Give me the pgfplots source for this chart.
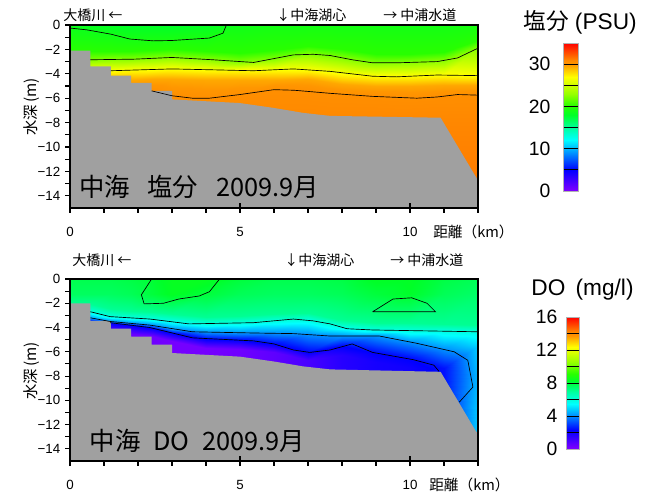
\documentclass[border=0pt]{standalone}
\usepackage{pgfplots}
\pgfplotsset{compat=1.18}
\usepackage{fontspec}
\setmainfont{Liberation Sans}
\newfontfamily\jp{Noto Sans CJK JP}
\definecolor{bath}{RGB}{160,160,160}

\pgfplotsset{
  colormap={nakaumi}{rgb255(0cm)=(128,0,255); rgb255(5cm)=(0,0,255); rgb255(8cm)=(0,110,255);
    rgb255(12cm)=(0,255,255); rgb255(15cm)=(0,255,160); rgb255(18cm)=(0,255,40);
    rgb255(20cm)=(40,255,0); rgb255(23cm)=(150,255,0); rgb255(27cm)=(255,255,0);
    rgb255(30cm)=(255,150,0); rgb255(31cm)=(255,135,0); rgb255(35cm)=(255,0,0)},
  section/.style={
    scale only axis, width=306pt,
    xmin=0, xmax=12, ymin=-15, ymax=0,
    axis on top,
    axis line style={line width=1.1pt},
    xtick={0,5,10}, xticklabels={0,5,10},
    minor xtick={1,2,3,4,6,7,8,9,11,12},
    ytick={-14,-12,-10,-8,-6,-4,-2,0},
    yticklabels={−14,−12,−10,−8,−6,−4,−2,0},
    minor ytick={-13,-11,-9,-7,-5,-3,-1},
    xtick pos=left, ytick pos=left,
    tick align=outside,
    major tick length=3.75pt, minor tick length=3.5pt,
    tick style={black, line width=0.8pt},
    tick label style={font=\fontsize{10}{12}\selectfont},
    xticklabel style={yshift=-7pt},
    extra x ticks={0,5,10}, extra x tick labels={},
    extra x tick style={tick align=inside, major tick length=3.75pt},
    colormap name=nakaumi,
  },
  cbar/.style={
    scale only axis, anchor=south west, axis on top,
    xmin=0, xmax=1, xtick=\empty,
    ytick pos=left, tick align=inside,
    tick style={black, line width=0.6pt},
    axis line style={gray!60, line width=0.4pt},
    colormap name=nakaumi,
  },
}

\begin{document}
\begin{tikzpicture}
\path[use as bounding box] (0,0) rectangle (494.25pt,372pt);

% ---------------- Salinity ----------------
\begin{axis}[section, height=137.25pt, at={(52.5pt,216pt)}, anchor=south west,
  point meta min=0, point meta max=35]
\addplot[surf, shader=interp, mesh/cols=15, point meta=explicit]
  table[x index=0, y index=1, meta index=2] {
x y v
0 0 18.6
0.6 0 18.4
1.2 0 18.2
1.8 0 18.0
2.4 0 18.0
3 0 18.0
4 0 18.2
5 0 18.8
6 0 19
7 0 19
8 0 19
9 0 19
10 0 19
11 0 19
12 0 19.2
0 -2.15 20
0.6 -2.15 20
1.2 -2.12 20
1.8 -2.10 20
2.4 -2.03 20
3 -1.96 20
4 -2.10 20
5 -2.30 20
6 -2.05 20
7 -1.70 20
8 -2.00 20
9 -2.40 20
10 -2.37 20
11 -2.20 20
12 -1.20 20
0 -2.85 22.5
0.6 -2.85 22.5
1.2 -2.82 22.5
1.8 -2.80 22.5
2.4 -2.73 22.5
3 -2.66 22.5
4 -2.80 22.5
5 -3.00 22.5
6 -2.75 22.5
7 -2.40 22.5
8 -2.70 22.5
9 -3.10 22.5
10 -3.07 22.5
11 -2.90 22.5
12 -1.90 22.5
0 -3.75 27
0.6 -3.75 27
1.2 -3.75 27
1.8 -3.70 27
2.4 -3.65 27
3 -3.60 27
4 -3.70 27
5 -3.72 27
6 -3.67 27
7 -3.65 27
8 -4.00 27
9 -4.20 27
10 -4.20 27
11 -4.10 27
12 -4.15 27
0 -4.55 29.5
0.6 -4.55 29.5
1.2 -4.55 29.5
1.8 -4.50 29.5
2.4 -4.45 29.5
3 -4.40 29.5
4 -4.50 29.5
5 -4.52 29.5
6 -4.47 29.5
7 -4.45 29.5
8 -4.80 29.5
9 -5.00 29.5
10 -5.00 29.5
11 -4.90 29.5
12 -4.95 29.5
0 -5.4 30.5
0.6 -5.4 30.5
1.2 -5.4 30.5
1.8 -5.4 30.5
2.4 -5.4 30.5
3 -5.8 30.5
4 -6.0 30.5
5 -5.7 30.5
6 -5.3 30.5
7 -5.45 30.5
8 -5.7 30.5
9 -5.85 30.5
10 -5.97 30.5
11 -5.85 30.5
12 -5.75 30.5
0 -8 31
0.6 -8 31
1.2 -8 31
1.8 -8 31
2.4 -8 31
3 -8 31
4 -8 31
5 -8 31
6 -8 31
7 -8 31
8 -8 31
9 -8 31
10 -8 31
11 -8 31
12 -8 31
0 -15 31.5
0.6 -15 31.5
1.2 -15 31.5
1.8 -15 31.5
2.4 -15 31.5
3 -15 31.5
4 -15 31.5
5 -15 31.5
6 -15 31.5
7 -15 31.5
8 -15 31.5
9 -15 31.5
10 -15 31.5
11 -15 31.5
12 -15 31.5
};
\addplot[fill=bath, draw=none] coordinates {
(0,-15) (0,-2.1) (0.6,-2.1) (0.6,-3.4) (1.2,-3.4) (1.2,-4.15) (1.8,-4.15) (1.8,-4.75)
(2.4,-4.75) (2.4,-5.4) (3.0,-5.4) (3.0,-6.1) (5.0,-6.4) (6.0,-6.8) (6.85,-7.2)
(7.65,-7.45) (10.9,-7.6) (11.97,-12.6) (12,-12.6) (12,-15)} -- cycle;
\addplot[black, line width=0.5pt] coordinates {
(0,-0.25) (0.5,-0.4) (1.2,-0.75) (1.76,-1.15) (2.45,-1.3) (3.0,-1.27) (4.1,-1.07) (4.5,-0.67) (4.6,0)};
\addplot[black, line width=0.5pt] coordinates {
(0.6,-2.85) (1.9,-2.8) (3.0,-2.66) (4.2,-2.85) (5.4,-3.07) (6.57,-2.45) (7.15,-2.4) (7.65,-2.5)
(8.3,-2.85) (8.9,-3.1) (9.6,-3.1) (10.8,-3.0) (11.4,-2.7) (12,-1.9)};
\addplot[black, line width=0.5pt] coordinates {
(1.2,-3.75) (3.0,-3.6) (5.4,-3.75) (6.57,-3.6) (7.65,-3.8) (8.9,-4.2) (9.6,-4.25) (10.8,-4.1) (12,-4.15)};
\addplot[black, line width=0.5pt] coordinates {
(2.4,-5.4) (3.0,-5.8) (3.6,-6.0) (4.1,-6.0) (5.0,-5.7) (6.0,-5.3) (6.6,-5.35) (7.65,-5.6)
(8.9,-5.85) (10.2,-6.0) (10.8,-5.9) (11.4,-5.7) (12,-5.75)};
\end{axis}

% salinity colour bar
\begin{axis}[cbar, width=11.25pt, height=111pt, at={(422.25pt,228.75pt)},
  ymin=0, ymax=35, point meta min=0, point meta max=35,
  ytick={0,10,20,30}, yticklabels={0,10,20,30}, minor ytick={5,15,25},
  major tick length=11.25pt, minor tick length=11.25pt,
  yticklabel style={font=\fontsize{14.5}{16}\selectfont, xshift=-6pt}]
\addplot[surf, shader=interp, mesh/cols=2, point meta=explicit]
  table[x index=0, y index=1, meta index=2] {
x y v
0 0 0
1 0 0
0 5 5
1 5 5
0 8 8
1 8 8
0 12 12
1 12 12
0 15 15
1 15 15
0 18 18
1 18 18
0 20 20
1 20 20
0 23 23
1 23 23
0 27 27
1 27 27
0 30 30
1 30 30
0 31 31
1 31 31
0 35 35
1 35 35
};
\end{axis}

% ---------------- DO ----------------
\begin{axis}[section, height=136.5pt, at={(52.5pt,26.25pt)}, anchor=south west,
  point meta min=0, point meta max=16]
\addplot[surf, shader=interp, mesh/cols=15, point meta=explicit]
  table[x index=0, y index=1, meta index=2] {
x y v
0 0 7.8
0.6 0 7.8
1.2 0 7.8
1.8 0 7.9
2.4 0 8.1
3 0 8.4
4 0 8.4
5 0 8.0
6 0 7.8
7 0 7.8
8 0 7.9
9 0 8.3
10 0 8.3
11 0 7.9
12 0 7.7
0 -1.2 7.6
0.6 -1.2 7.6
1.2 -1.2 7.6
1.8 -1.2 7.7
2.4 -1.2 8.0
3 -1.2 8.3
4 -1.2 8.0
5 -1.2 7.7
6 -1.2 7.6
7 -1.2 7.6
8 -1.2 7.7
9 -1.2 8.0
10 -1.2 8.2
11 -1.2 7.7
12 -1.2 7.5
0 -2.1 7.0
0.6 -2.1 7.0
1.2 -2.5 7.0
1.8 -2.6 7.0
2.4 -2.7 7.0
3 -2.9 7.0
4 -3.1 7.0
5 -3.05 7.0
6 -2.85 7.0
7 -2.8 7.0
8 -3.35 7.0
9 -3.6 7.0
10 -3.65 7.0
11 -3.7 7.0
12 -3.75 7.0
0 -2.7 5.9
0.6 -2.7 5.9
1.2 -3.1 5.9
1.8 -3.2 5.9
2.4 -3.3 5.9
3 -3.5 5.9
4 -3.7 5.9
5 -3.65 5.9
6 -3.45 5.9
7 -3.4 5.9
8 -3.95 5.9
9 -4.2 5.9
10 -4.25 5.9
11 -4.3 5.9
12 -4.35 5.9
0 -3.2 4.1
0.6 -3.2 4.1
1.2 -3.5 4.1
1.8 -3.65 4.1
2.4 -3.8 4.1
3 -4.1 4.1
4 -4.4 4.1
5 -4.45 4.1
6 -4.48 4.1
7 -4.55 4.1
8 -4.7 4.1
9 -4.7 4.1
10 -5.2 4.1
11 -5.8 4.1
12 -5.5 4.9
0 -3.5 2.3
0.6 -3.5 2.3
1.2 -3.6 2.3
1.8 -3.8 2.3
2.4 -4.0 2.3
3 -4.45 2.3
4 -4.95 2.3
5 -5.05 2.3
6 -5.35 2.3
7 -6.0 2.3
8 -5.5 2.3
9 -6.1 2.3
10 -6.6 2.3
11 -7.3 2.5
12 -8 4.6
0 -4.3 0.8
0.6 -4.3 0.8
1.2 -4.3 0.6
1.8 -4.5 0.4
2.4 -4.7 0.3
3 -5.15 0.2
4 -5.65 0.2
5 -5.75 0.3
6 -6.05 0.6
7 -6.7 1.0
8 -6.3 1.6
9 -6.8 1.9
10 -7.3 2.0
11 -8.5 2.5
12 -11 4.8
0 -15 0.8
0.6 -15 0.8
1.2 -15 0.6
1.8 -15 0.4
2.4 -15 0.3
3 -15 0.2
4 -15 0.2
5 -15 0.3
6 -15 0.6
7 -15 1.0
8 -15 1.6
9 -15 1.9
10 -15 2.0
11 -15 2.5
12 -15 5.0
};
\addplot[fill=bath, draw=none] coordinates {
(0,-15) (0,-2.0) (0.6,-2.0) (0.6,-3.45) (1.2,-3.45) (1.2,-4.1) (1.8,-4.1) (1.8,-4.75)
(2.4,-4.75) (2.4,-5.4) (3.0,-5.4) (3.0,-6.1) (5.0,-6.4) (6.0,-6.8) (6.85,-7.2)
(7.65,-7.45) (10.9,-7.65) (11.95,-12.6) (12,-12.6) (12,-15)} -- cycle;
\addplot[black, line width=0.5pt] coordinates {
(2.4,0) (2.1,-1.3) (2.18,-2.05) (2.75,-2.0) (3.2,-1.65) (3.8,-1.4) (4.1,-1.05) (4.4,0)};
\addplot[black, line width=0.5pt] coordinates {
(8.9,-2.7) (9.5,-1.65) (10.05,-1.55) (10.5,-2.0) (10.75,-2.7) (8.9,-2.7)};
\addplot[black, line width=0.5pt] coordinates {
(0.6,-2.7) (1.18,-3.1) (2.35,-3.3) (3.5,-3.7) (5.4,-3.6) (6.57,-3.3) (7.15,-3.45) (7.65,-3.7)
(8.15,-4.1) (8.9,-4.2) (12,-4.35)};
\addplot[black, line width=0.5pt] coordinates {
(0.6,-3.2) (1.18,-3.5) (2.35,-3.8) (3.6,-4.35) (5.4,-4.45) (6.57,-4.5) (7.65,-4.7) (9.1,-4.7)
(10.2,-5.3) (11.3,-6.0) (11.7,-6.7) (11.85,-8.9) (11.45,-10.15)};
\addplot[black, line width=0.5pt] coordinates {
(1.18,-3.6) (2.35,-4.0) (3.6,-4.85) (5.4,-5.1) (6.0,-5.35) (6.57,-5.85) (7.05,-6.05) (7.65,-5.85)
(8.3,-5.35) (8.9,-6.05) (10.1,-6.65) (10.7,-7.1) (10.85,-7.6)};
\end{axis}

% DO colour bar
\begin{axis}[cbar, width=9.75pt, height=99pt, at={(424.5pt,35.25pt)},
  ymin=0, ymax=16, point meta min=0, point meta max=16,
  ytick={0,4,8,12,16}, yticklabels={0,4,8,12,16}, minor ytick={2,6,10,14},
  major tick length=9.75pt, minor tick length=9.75pt,
  yticklabel style={font=\fontsize{14.5}{16}\selectfont, xshift=-3pt}]
\addplot[surf, shader=interp, mesh/cols=2, point meta=explicit]
  table[x index=0, y index=1, meta index=2] {
x y v
0 0 0
1 0 0
0 2.286 2.286
1 2.286 2.286
0 3.657 3.657
1 3.657 3.657
0 5.486 5.486
1 5.486 5.486
0 6.857 6.857
1 6.857 6.857
0 8.229 8.229
1 8.229 8.229
0 9.143 9.143
1 9.143 9.143
0 10.514 10.514
1 10.514 10.514
0 12.343 12.343
1 12.343 12.343
0 13.714 13.714
1 13.714 13.714
0 14.171 14.171
1 14.171 14.171
0 16 16
1 16 16
};
\end{axis}

% ---------------- texts ----------------
\begin{scope}[every node/.style={inner sep=0pt}]
\node[anchor=west, font=\jp\fontsize{10.5}{12}\selectfont] at (47.25pt,360.75pt) {大橋川 ←};
\node[anchor=west, font=\jp\fontsize{10.5}{12}\selectfont] at (207pt,360.75pt) {↓中海湖心};
\node[anchor=west, font=\jp\fontsize{10.5}{12}\selectfont] at (287.25pt,360.75pt) {→ 中浦水道};
\node[anchor=west, font=\jp\fontsize{10.5}{12}\selectfont] at (54pt,177pt) {大橋川 ←};
\node[anchor=west, font=\jp\fontsize{10.5}{12}\selectfont] at (213pt,177pt) {↓中海湖心};
\node[anchor=west, font=\jp\fontsize{10.5}{12}\selectfont] at (292.5pt,177pt) {→ 中浦水道};
\node[rotate=90, font=\jp\fontsize{11.5}{13}\selectfont] at (24pt,291.75pt) {水深\hspace{0.15em}(m)};
\node[rotate=90, font=\jp\fontsize{11.5}{13}\selectfont] at (24pt,93.75pt) {水深\hspace{0.15em}(m)};
\node[anchor=west, font=\jp\fontsize{11}{12}\selectfont] at (324.75pt,198pt) {距離（km）};
\node[anchor=west, font=\jp\fontsize{11}{12}\selectfont] at (321.75pt,8.25pt) {距離（km）};
\node[font=\jp\fontsize{19}{21}\selectfont] at (149.25pt,231.75pt) {中海\hspace{0.7em}塩分\hspace{0.7em}2009.9月};
\node[font=\jp\fontsize{19}{21}\selectfont] at (148pt,41.25pt) {中海\hspace{0.5em}DO\hspace{0.5em}2009.9月};
\node[font=\fontsize{17}{19}\selectfont] at (435pt,355.5pt) {{\jp 塩分} (PSU)};
\node[font=\fontsize{17}{19}\selectfont] at (436.9pt,154.5pt) {DO\hspace{0.45em}(mg/l)};
\end{scope}
\end{tikzpicture}
\end{document}
